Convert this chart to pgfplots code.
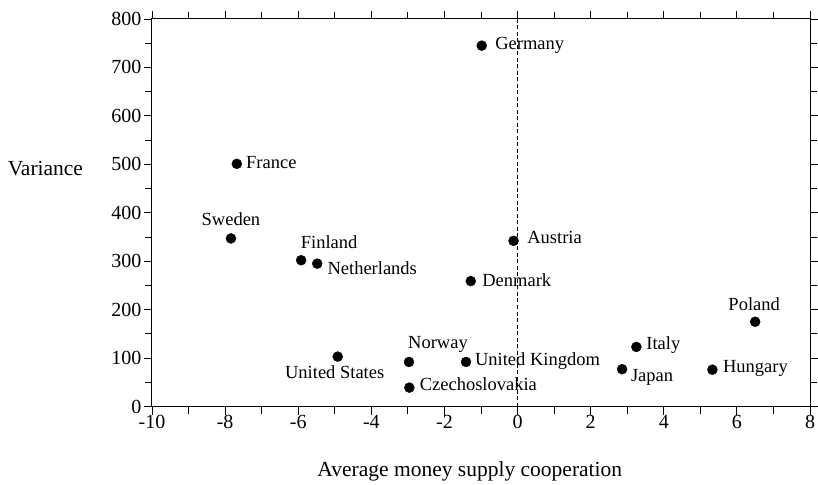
\documentclass[border=0pt]{standalone}
\usepackage{pgfplots}
\pgfplotsset{compat=1.18}
\usepackage{pgfplotstable}
\usepackage{fontspec}
\setmainfont{Liberation Serif}

\pgfplotstableread{
x y label dx dy
-0.98 745 Germany 48 -1.5
-7.68 501 France 34.5 -2
-7.84 347 Sweden 0 15
-5.92 302 Finland 28 14
-5.48 295 Netherlands 55 -9
-0.11 342 Austria 41 0
-1.28 259 Denmark 46 -3
6.50 175 Poland -1 14
3.25 123 Italy 27 0
5.33 76 Hungary 43 -1
2.86 77 Japan 30 -10
-4.92 103 {United States} -3 -20
-2.97 92 Norway 29 16
-1.41 92 {United Kingdom} 71.5 -1
-2.96 39 Czechoslovakia 69 -1
}\datatable

\begin{document}
\begin{tikzpicture}
\useasboundingbox (-152pt,-77.5pt) rectangle (666pt,406.5pt);
\begin{axis}[
  at={(0pt,0pt)}, anchor=south west,
  scale only axis, width=658pt, height=387.5pt,
  xmin=-10, xmax=8, ymin=0, ymax=800,
  xtick={-10,-8,...,8}, minor x tick num=1,
  ytick={0,100,...,800}, minor y tick num=1,
  tick align=outside,
  major tick length=8pt, minor tick length=7pt,
  axis line style={line width=1pt},
  every tick/.style={black, line width=0.9pt},
  every minor tick/.style={black, line width=0.9pt},
  /pgf/number format/assume math mode=true,
  ticklabel style={font=\fontsize{20}{22}\selectfont},
  xticklabel style={yshift=2.5pt},
  yticklabel style={xshift=1pt},
  xlabel={Average money supply cooperation},
  xlabel style={font=\fontsize{21.5}{24}\selectfont, at={(axis description cs:0.483,-0.181)}, anchor=base},
  ylabel={Variance},
  ylabel style={font=\fontsize{21.5}{24}\selectfont, rotate=-90, at={(axis description cs:-0.162,0.597)}, anchor=base},
  clip=false,
]
\addplot[black, line width=0.6pt, dash pattern=on 4pt off 2.5pt] coordinates {(0,0) (0,800)};
\addplot[
  only marks, mark=*, mark size=5pt, black,
  point meta=explicit symbolic,
  visualization depends on={\thisrow{dx} \as \dx},
  visualization depends on={\thisrow{dy} \as \dy},
  nodes near coords,
  nodes near coords style={font=\fontsize{18.5}{20}\selectfont, anchor=center, inner sep=0pt, text height=1ex, text depth=0pt, xshift=\dx pt, yshift=\dy pt},
] table[x=x, y=y, meta=label] {\datatable};
\end{axis}
\end{tikzpicture}
\end{document}
